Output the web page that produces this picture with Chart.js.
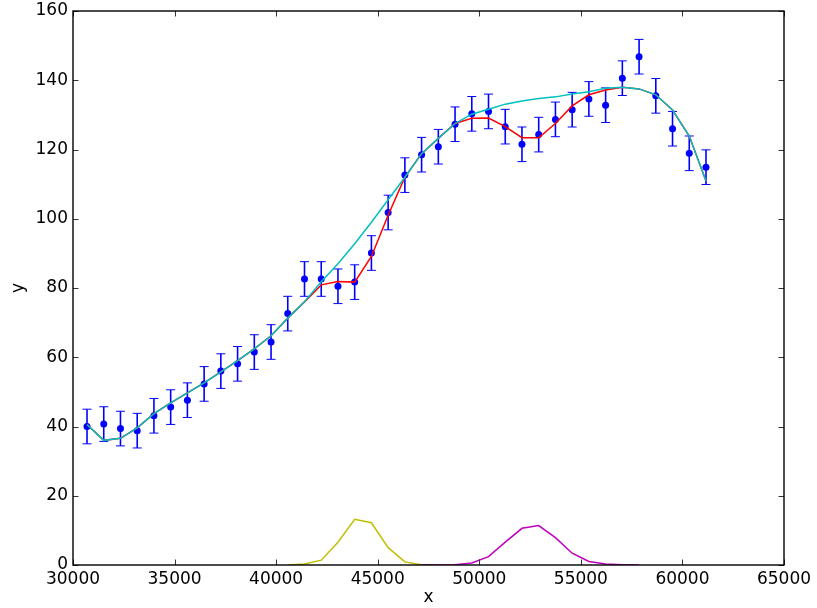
<!DOCTYPE html>
<html>
<head>
<meta charset="utf-8">
<script src="https://cdn.jsdelivr.net/npm/chart.js@4.4.0/dist/chart.umd.min.js"></script>
<style>
html, body { margin: 0; padding: 0; background: #fff; }
</style>
</head>
<body>
<canvas id="myChart" width="817" height="608"></canvas>
<script>
// measured points with error bars
var xVals = [30690, 31514, 32337, 33161, 33984, 34808, 35631, 36455, 37278, 38102,
    38925, 39749, 40572, 41396, 42219, 43043, 43866, 44690, 45513, 46337,
    47160, 47984, 48807, 49631, 50454, 51278, 52101, 52925, 53748, 54572,
    55395, 56219, 57042, 57866, 58689, 59513, 60336, 61160];
var yVals = [40.0, 40.7, 39.4, 38.8, 43.1, 45.6, 47.6, 52.3, 56.0, 58.1,
    61.5, 64.4, 72.6, 82.6, 82.6, 80.5, 81.7, 90.1, 101.8, 112.6,
    118.5, 120.8, 127.3, 130.3, 131.0, 126.6, 121.5, 124.3, 128.7, 131.5,
    134.6, 132.8, 140.6, 146.8, 135.5, 126.0, 118.9, 114.9];
var yErr = [5, 5, 5, 5, 5, 5, 5, 5, 5, 5,
    5, 5, 5, 5, 5, 5, 5, 5, 5, 5,
    5, 5, 5, 5, 5, 5, 5, 5, 5, 5,
    5, 5, 5, 5, 5, 5, 5, 5];

// fitted curves (same x as the points)
var fitRed = [40.6, 36.0, 36.6, 39.6, 43.7, 46.8, 49.7, 52.6, 55.8, 59.0,
    62.4, 66.2, 71.3, 76.0, 80.9, 81.9, 81.7, 89.1, 101.0, 112.0,
    118.8, 123.2, 127.5, 129.0, 129.1, 126.6, 123.4, 123.4, 127.5, 132.6,
    135.8, 137.2, 138.0, 137.5, 135.8, 131.4, 123.9, 110.9];
var fitCyan = [40.6, 36.0, 36.6, 39.6, 43.7, 46.8, 49.7, 52.6, 55.8, 59.0,
    62.4, 66.2, 71.3, 76.0, 81.8, 87.0, 92.8, 99.0, 105.5, 112.0,
    118.8, 123.2, 127.5, 130.2, 131.6, 133.1, 134.0, 134.7, 135.2, 136.0,
    136.7, 137.7, 138.0, 137.5, 135.8, 131.4, 123.9, 110.9];

// the two peaks near the bottom
var peakYellowX = [40572, 41396, 42219, 43043, 43866, 44690, 45513, 46337, 47160, 47984];
var peakYellow = [0.0, 0.3, 1.4, 6.6, 13.2, 12.2, 5.0, 0.9, 0.1, 0.0];
var peakMagentaX = [47160, 47984, 48807, 49631, 50454, 51278, 52101, 52925, 53748, 54572,
    55395, 56219, 57042, 57866];
var peakMagenta = [0.0, 0.0, 0.1, 0.6, 2.4, 6.6, 10.6, 11.4, 7.9, 3.4,
    1.0, 0.3, 0.1, 0.0];

function pts(xs, ys) {
    return xs.map(function (x, i) { return { x: x, y: ys[i] }; });
}

var errorBars = {
    id: 'errorBars',
    beforeDatasetsDraw: function (chart) {
        var ctx = chart.ctx, sx = chart.scales.x, sy = chart.scales.y;
        ctx.save();
        ctx.strokeStyle = '#0000ff';
        for (var i = 0; i < xVals.length; i++) {
            var px = sx.getPixelForValue(xVals[i]);
            var top = sy.getPixelForValue(yVals[i] + yErr[i]);
            var bot = sy.getPixelForValue(yVals[i] - yErr[i]);
            ctx.lineWidth = 1.6;
            ctx.beginPath();
            ctx.moveTo(px, top);
            ctx.lineTo(px, bot);
            ctx.stroke();
            ctx.lineWidth = 1;
            ctx.beginPath();
            ctx.moveTo(px - 4.5, top);
            ctx.lineTo(px + 4.5, top);
            ctx.moveTo(px - 4.5, bot);
            ctx.lineTo(px + 4.5, bot);
            ctx.stroke();
        }
        ctx.restore();
    }
};

// matplotlib-like box with inward ticks on all sides
var frame = {
    id: 'frame',
    afterDatasetsDraw: function (chart) {
        var ctx = chart.ctx, a = chart.chartArea;
        var sx = chart.scales.x, sy = chart.scales.y;
        var tl = 5.5;
        ctx.save();
        ctx.strokeStyle = '#000';
        ctx.lineWidth = 0.8;
        ctx.beginPath();
        sx.ticks.forEach(function (t) {
            var px = Math.round(sx.getPixelForValue(t.value)) + 0.5;
            ctx.moveTo(px, a.bottom);
            ctx.lineTo(px, a.bottom - tl);
            ctx.moveTo(px, a.top);
            ctx.lineTo(px, a.top + tl);
        });
        sy.ticks.forEach(function (t) {
            var py = Math.round(sy.getPixelForValue(t.value)) + 0.5;
            ctx.moveTo(a.left, py);
            ctx.lineTo(a.left + tl, py);
            ctx.moveTo(a.right, py);
            ctx.lineTo(a.right - tl, py);
        });
        ctx.stroke();
        ctx.lineWidth = 1.4;
        ctx.strokeRect(a.left, a.top, a.right - a.left, a.bottom - a.top);
        ctx.restore();
    }
};

Chart.defaults.font.family = 'DejaVu Sans';
Chart.defaults.font.size = 17;
Chart.defaults.color = '#000';

var ctx = document.getElementById('myChart').getContext('2d');
new Chart(ctx, {
    type: 'scatter',
    data: {
        datasets: [{
            data: pts(xVals, fitCyan),
            showLine: true,
            borderColor: '#00bfbf',
            borderWidth: 1.5,
            pointRadius: 0,
            tension: 0
        }, {
            data: pts(xVals, fitRed),
            showLine: true,
            borderColor: '#ff0000',
            borderWidth: 1.5,
            pointRadius: 0,
            tension: 0
        }, {
            data: pts(peakMagentaX, peakMagenta),
            showLine: true,
            borderColor: '#bf00bf',
            borderWidth: 1.5,
            pointRadius: 0,
            tension: 0
        }, {
            data: pts(peakYellowX, peakYellow),
            showLine: true,
            borderColor: '#bfbf00',
            borderWidth: 1.5,
            pointRadius: 0,
            tension: 0
        }, {
            data: pts(xVals, yVals),
            showLine: false,
            pointRadius: 3.5,
            pointBackgroundColor: '#0000ff',
            pointBorderWidth: 0
        }]
    },
    options: {
        responsive: false,
        animation: false,
        layout: { padding: { top: 11, right: 33, left: 0, bottom: 0 } },
        plugins: {
            legend: { display: false },
            tooltip: { enabled: false }
        },
        scales: {
            x: {
                type: 'linear',
                min: 30000,
                max: 65000,
                grid: { display: false, drawTicks: false },
                border: { display: false },
                ticks: {
                    stepSize: 5000,
                    autoSkip: false,
                    maxRotation: 0,
                    padding: 4,
                    callback: function (v) { return String(v); }
                },
                title: { display: true, text: 'x', padding: { top: 0, bottom: 0 } },
                afterFit: function (s) {
                    s.height = 43;
                    s.paddingLeft = 0;
                    s.paddingRight = 0;
                }
            },
            y: {
                min: 0,
                max: 160,
                grid: { display: false, drawTicks: false },
                border: { display: false },
                ticks: { stepSize: 20, padding: 5 },
                title: { display: true, text: 'y', padding: { top: 8, bottom: 8 } },
                afterFit: function (s) {
                    s.width = 73;
                    s.paddingTop = 0;
                    s.paddingBottom = 0;
                }
            }
        }
    },
    plugins: [errorBars, frame]
});
</script>
</body>
</html>
